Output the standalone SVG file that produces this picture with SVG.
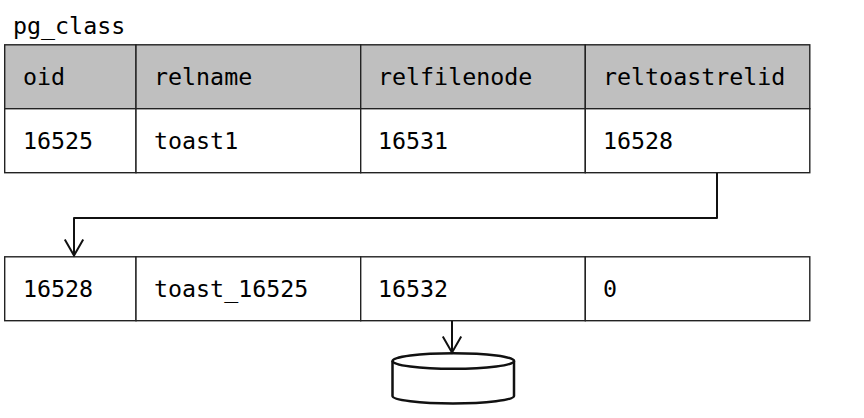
<svg xmlns="http://www.w3.org/2000/svg" width="864" height="418" viewBox="0 0 864 418">
<style>
text{font-family:"DejaVu Sans Mono","Liberation Mono",monospace;font-size:23.3px;fill:#000}
.cell{stroke:#222;stroke-width:1.4;fill:#fff}
.head{fill:#bfbfbf}
.conn{fill:none;stroke:#111;stroke-width:2;stroke-linejoin:round}
.db{fill:#fff;stroke:#111;stroke-width:2.5}
</style>
<defs>
<marker id="open" markerUnits="userSpaceOnUse" markerWidth="24" markerHeight="24" refX="20" refY="12" orient="auto" overflow="visible">
<path d="M4 2.800L20 12L4 21.200" fill="none" stroke="#111" stroke-width="2"/>
</marker>
</defs>
<rect width="864" height="418" fill="#fff"/>
<text id="title" x="13" y="34">pg_class</text>
<g id="header-row">
<rect class="cell head" x="4.700" y="44.800" width="131.300" height="63.900"/>
<rect class="cell head" x="136" y="44.800" width="224.700" height="63.900"/>
<rect class="cell head" x="360.700" y="44.800" width="224.600" height="63.900"/>
<rect class="cell head" x="585.300" y="44.800" width="224.500" height="63.900"/>
<text x="23" y="85">oid</text><text x="154" y="85">relname</text><text x="378" y="85">relfilenode</text><text x="603" y="85">reltoastrelid</text>
</g>
<g id="row-toast1">
<rect class="cell" x="4.700" y="108.700" width="131.300" height="64"/>
<rect class="cell" x="136" y="108.700" width="224.700" height="64"/>
<rect class="cell" x="360.700" y="108.700" width="224.600" height="64"/>
<rect class="cell" x="585.300" y="108.700" width="224.500" height="64"/>
<text x="23" y="149">16525</text><text x="154" y="149">toast1</text><text x="378" y="149">16531</text><text x="603" y="149">16528</text>
</g>
<g id="row-toast-16525">
<rect class="cell" x="4.700" y="256.800" width="131.300" height="63.900"/>
<rect class="cell" x="136" y="256.800" width="224.700" height="63.900"/>
<rect class="cell" x="360.700" y="256.800" width="224.600" height="63.900"/>
<rect class="cell" x="585.300" y="256.800" width="224.500" height="63.900"/>
<text x="23" y="297">16528</text><text x="154" y="297">toast_16525</text><text x="378" y="297">16532</text><text x="603" y="297">0</text>
</g>
<g id="storage">
<path class="db" d="M392.500 361V396C392.500 400 420 403.500 453 403.500S514 400 514 396V361"/>
<ellipse class="db" cx="453.300" cy="361" rx="60.800" ry="7.800"/>
</g>
<g id="connectors">
<path class="conn" d="M717 173V218H74V255.500" marker-end="url(#open)"/>
<path class="conn" d="M452 321V352.500" marker-end="url(#open)"/>
</g>
</svg>
